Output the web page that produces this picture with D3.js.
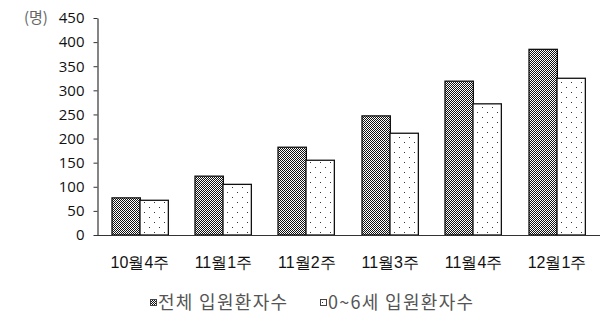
<!DOCTYPE html>
<html>
<head>
<meta charset="utf-8">
<script src="https://cdn.jsdelivr.net/npm/d3@7"></script>
<style>
  html, body { margin: 0; padding: 0; background: #fff; }
  svg { display: block; font-family: "Noto Sans CJK KR", "Noto Sans", sans-serif; }
</style>
</head>
<body>
<svg id="chart" width="615" height="328"></svg>
<script>
// Weekly inpatient counts
const weeks = ["10월4주", "11월1주", "11월2주", "11월3주", "11월4주", "12월1주"];
const totalPatients = [77, 122, 182, 247, 319, 385];
const childPatients = [72, 105, 155, 211, 272, 325];
const seriesNames = ["전체 입원환자수", "0~6세 입원환자수"];
const yTicks = [0, 50, 100, 150, 200, 250, 300, 350, 400, 450];

const svg = d3.select("#chart");

// Fill patterns: dense checker and sparse dots
const defs = svg.append("defs");
const checker = defs.append("pattern")
  .attr("id", "checker").attr("patternUnits", "userSpaceOnUse")
  .attr("width", 2).attr("height", 2);
checker.append("rect").attr("width", 2).attr("height", 2).attr("fill", "#fff");
checker.append("rect").attr("x", 0).attr("y", 0).attr("width", 1).attr("height", 1).attr("fill", "#111");
checker.append("rect").attr("x", 1).attr("y", 1).attr("width", 1).attr("height", 1).attr("fill", "#111");

const dots = defs.append("pattern")
  .attr("id", "dots").attr("patternUnits", "userSpaceOnUse")
  .attr("width", 10).attr("height", 10);
dots.append("rect").attr("width", 10).attr("height", 10).attr("fill", "#fff");
dots.append("rect").attr("x", 2).attr("y", 2).attr("width", 1).attr("height", 1).attr("fill", "#333");
dots.append("rect").attr("x", 7).attr("y", 7).attr("width", 1).attr("height", 1).attr("fill", "#333");

const fills = ["url(#checker)", "url(#dots)"];

const x = d3.scaleBand().domain(weeks).range([97, 600]).paddingInner(0.32).paddingOuter(0.175);
const inner = d3.scaleBand().domain([0, 1]).range([0, x.bandwidth()]);
const y = d3.scaleLinear().domain([0, 450]).range([235, 18]);

// Y axis
const yAxis = svg.append("g")
  .attr("transform", "translate(97.5,0)")
  .call(d3.axisLeft(y).tickValues(yTicks).tickSize(4).tickPadding(9).tickSizeOuter(0));
yAxis.select(".domain").attr("stroke", "#333").attr("stroke-width", 1.2);
yAxis.selectAll(".tick line").attr("stroke", "#333");
yAxis.selectAll(".tick text").attr("font-size", 15).attr("fill", "#111")
  .attr("font-family", "'Open Sans', 'Noto Sans CJK KR', sans-serif");

svg.append("text").attr("x", 24).attr("y", 23).attr("font-size", 15)
  .attr("fill", "#666").text("(명)");

// Bars (group offsets snapped to whole pixels so the fill patterns stay crisp)
const data = weeks.map((w, i) => ({ week: w, vals: [totalPatients[i], childPatients[i]] }));
const groups = svg.append("g").selectAll("g").data(data).join("g")
  .attr("transform", d => `translate(${Math.round(x(d.week))},0)`);
groups.selectAll("rect")
  .data(d => d.vals.map((v, k) => ({ v, k })))
  .join("rect")
  .attr("x", d => Math.round(inner(d.k)))
  .attr("y", d => y(d.v))
  .attr("width", inner.bandwidth())
  .attr("height", d => y(0) - y(d.v))
  .attr("fill", d => fills[d.k])
  .attr("stroke", "#111")
  .attr("stroke-width", 1.3);

// X axis
const xAxis = svg.append("g")
  .attr("transform", "translate(0,235.5)")
  .call(d3.axisBottom(x).tickSize(0).tickPadding(21).tickSizeOuter(0));
xAxis.select(".domain").attr("stroke", "#333").attr("stroke-width", 1.2)
  .attr("d", "M97,0H600");
xAxis.selectAll(".tick text").attr("font-size", 16).attr("fill", "#111");

// Legend
const legendPos = [150, 320];
const legend = svg.append("g").selectAll("g").data(seriesNames).join("g")
  .attr("transform", (d, i) => `translate(${legendPos[i]},0)`);
legend.append("rect").attr("x", 0.5).attr("y", 299.5).attr("width", 6).attr("height", 6)
  .attr("fill", (d, i) => fills[i]).attr("stroke", "#444").attr("stroke-width", 1);
legend.append("text").attr("x", 8).attr("y", 304).attr("font-size", 18)
  .attr("letter-spacing", 1.3)
  .attr("fill", "#555").attr("dominant-baseline", "middle").text(d => d);
</script>
</body>
</html>
